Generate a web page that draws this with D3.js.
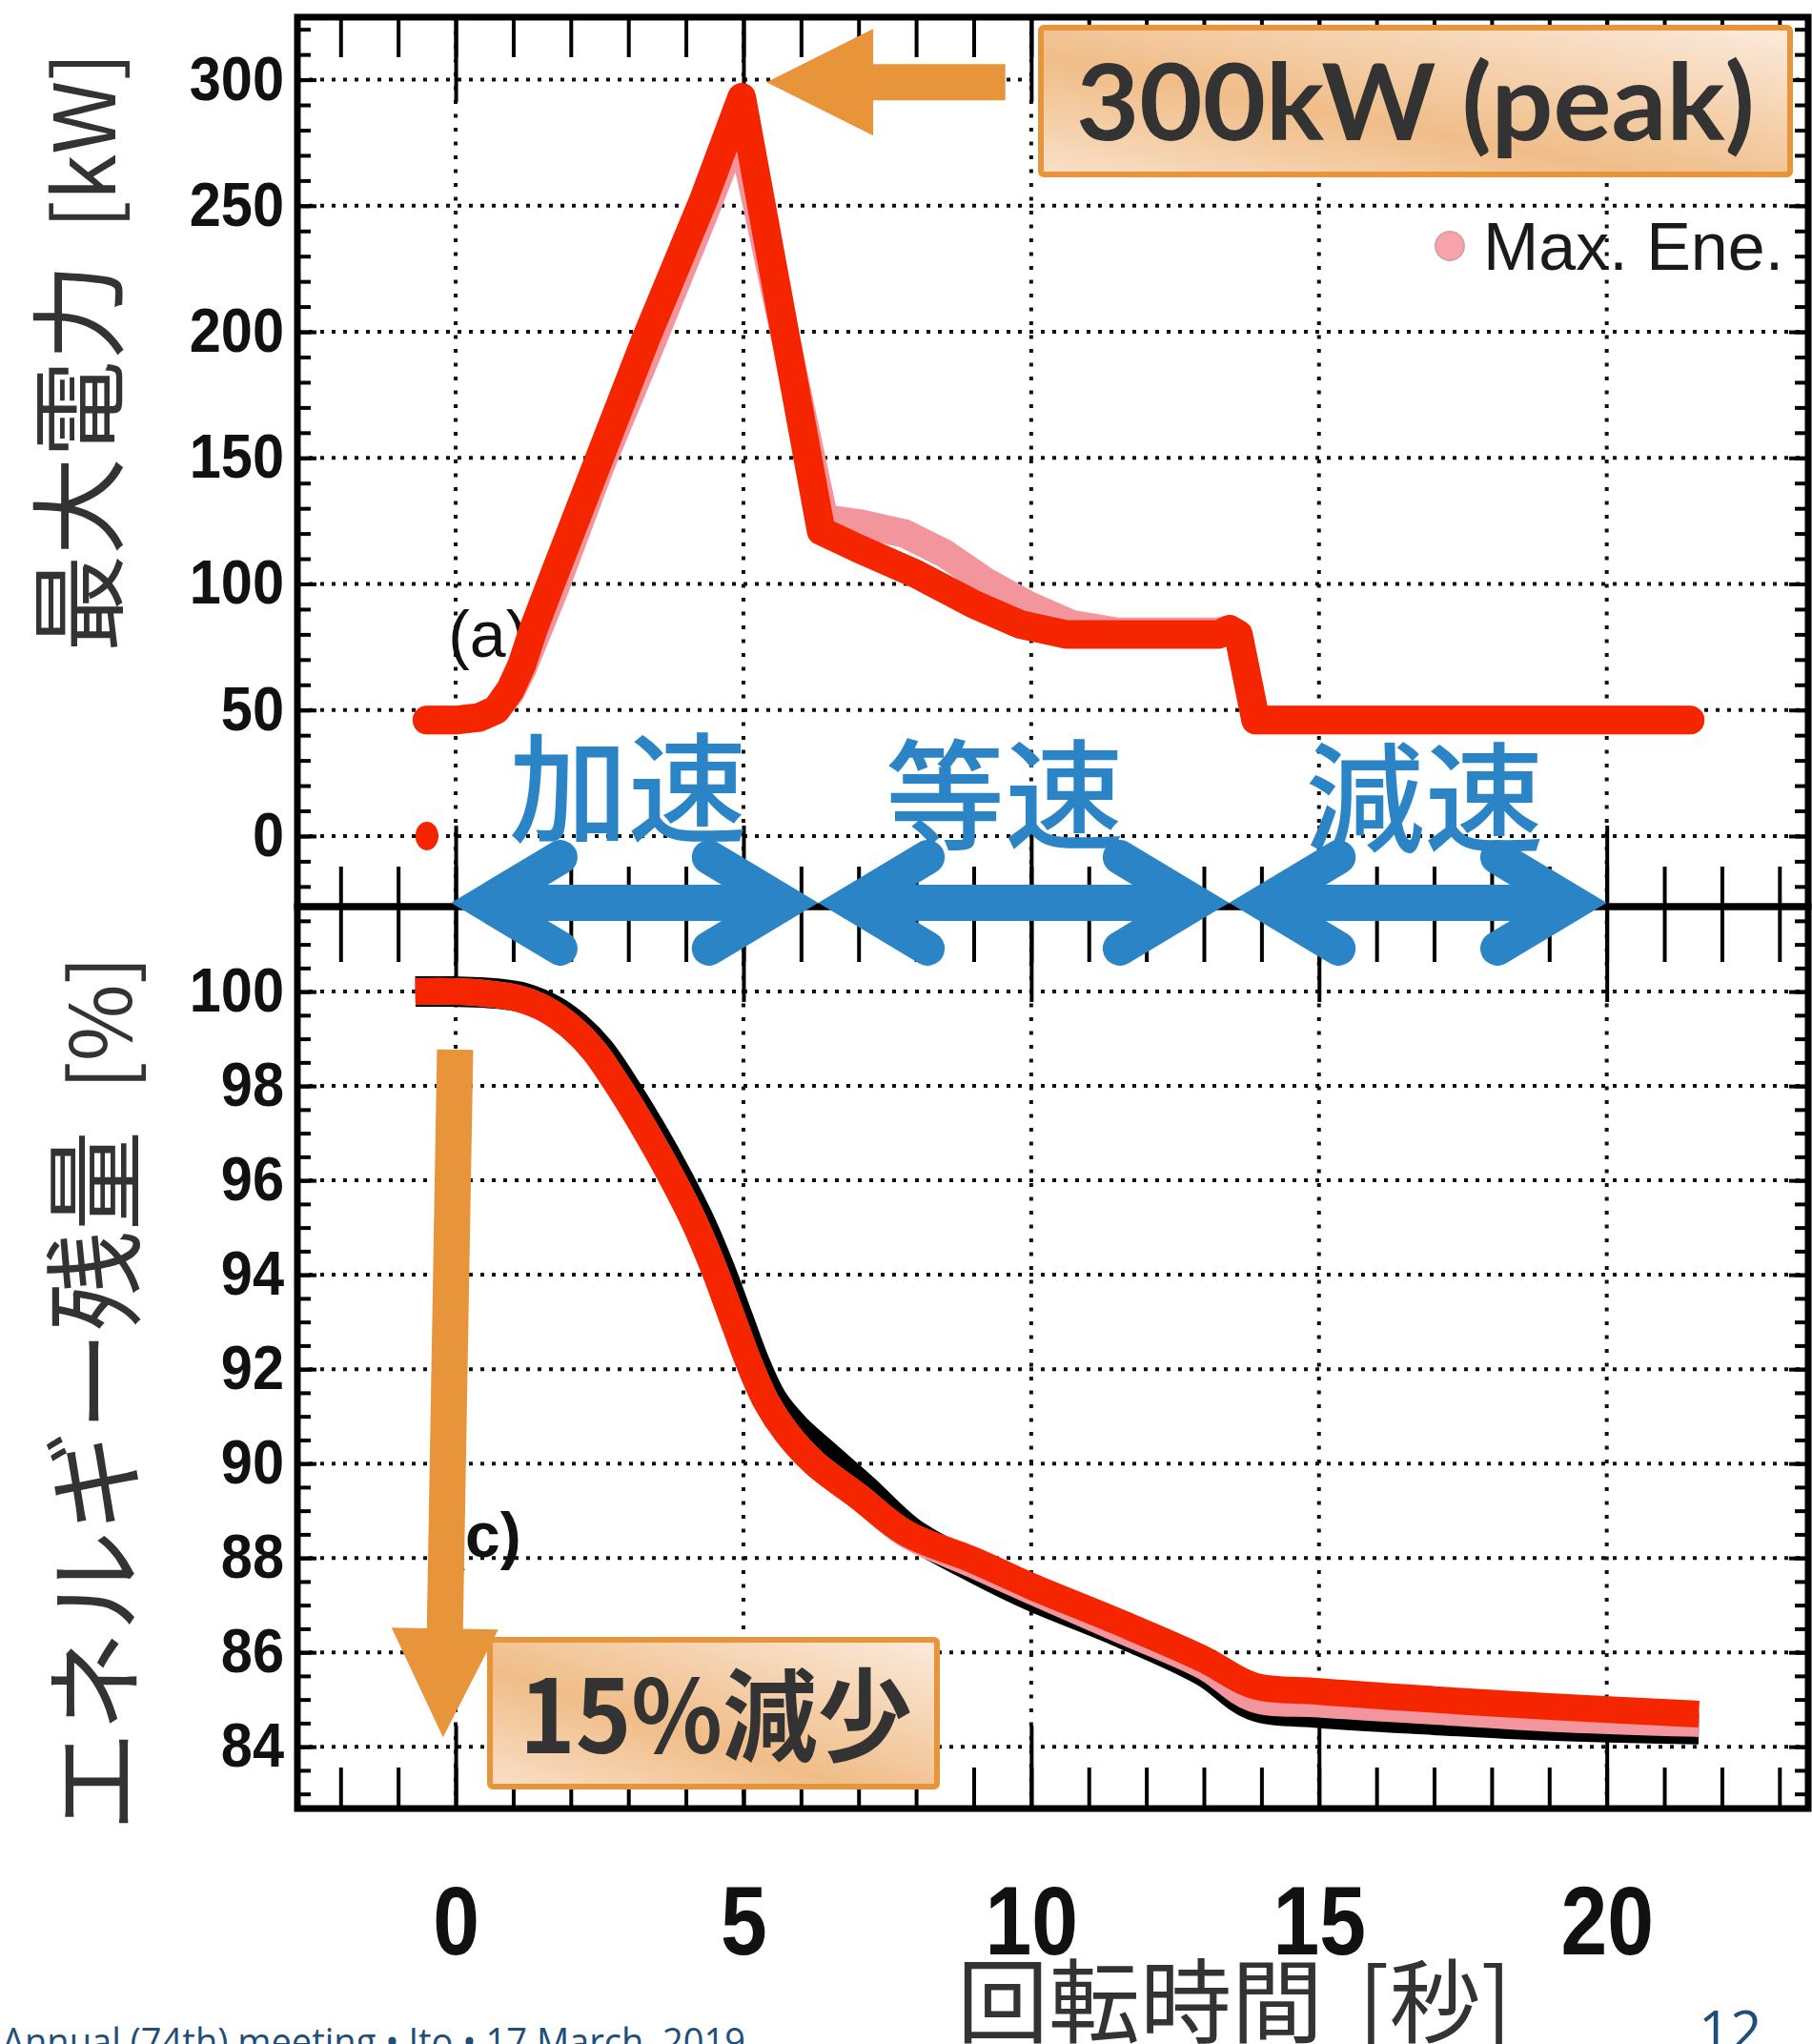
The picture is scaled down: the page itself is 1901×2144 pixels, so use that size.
<!DOCTYPE html>
<html>
<head>
<meta charset="utf-8">
<script src="https://cdn.jsdelivr.net/npm/d3@7"></script>
<style>
  body { margin: 0; background: #fff; }
  svg { display: block; }
</style>
</head>
<body>
<script>
// ---- data ----
// upper panel: max power [kW] vs time [s]
const powerTimeRed = [-0.5, 0, 0.4, 0.7, 0.95, 1.15, 1.35, 1.65, 2.5, 3.3, 4.3, 4.97, 6.35, 7.0, 8.0, 9.0, 9.8, 10.6, 11.5, 12.5, 13.25, 13.45, 13.6, 13.9, 21.45];
const powerRed     = [46, 46, 47, 50, 58, 68, 82, 100, 150, 197, 252, 293, 121, 114, 104, 92, 84, 80, 80, 80, 80, 82, 80, 46, 46];
const powerTimeMax = [-0.5, 0, 0.4, 0.7, 0.95, 1.15, 1.4, 1.7, 2.5, 3.3, 4.3, 4.93, 6.4, 7.0, 7.8, 8.5, 9.2, 10.0, 10.7, 11.5, 13.25, 13.45, 13.6, 13.9, 21.45];
const powerMax     = [46, 46, 47, 50, 57, 66, 80, 97, 146, 190, 246, 283, 126, 124, 120, 112, 101, 91, 84, 81, 81, 82, 80, 46, 46];
const powerZeroPoint = [-0.5, 0];

// lower panel: remaining energy [%] vs time [s]
const energyTime  = [-0.7, 0, 0.6, 1.1, 1.6, 2.0, 2.4, 2.77, 3.3, 3.78, 4.15, 4.48, 4.8, 5.09, 5.4, 5.75, 6.24, 7.0, 7.82, 9.0, 10.0, 11.5, 13.0, 13.85, 15, 17, 19, 21.6];
const energyRed   = [100, 100, 99.95, 99.85, 99.6, 99.25, 98.75, 98.1, 97.05, 96.0, 95.1, 94.15, 93.1, 92.15, 91.3, 90.65, 90.0, 89.3, 88.53, 87.95, 87.4, 86.65, 85.85, 85.3, 85.17, 85.0, 84.85, 84.69];
const energyMax   = [100, 100, 99.95, 99.85, 99.6, 99.25, 98.75, 98.1, 97.05, 96.0, 95.1, 94.15, 93.1, 92.15, 91.3, 90.65, 90.0, 89.3, 88.5, 87.85, 87.3, 86.5, 85.7, 85.02, 84.9, 84.75, 84.6, 84.49];
const energyTimeBlack = [-0.7, 0, 0.7, 1.2, 1.7, 2.1, 2.5, 2.87, 3.4, 3.88, 4.25, 4.58, 4.9, 5.19, 5.5, 5.9, 6.4, 7.1, 7.9, 9.0, 10.0, 11.5, 13.0, 13.85, 15, 17, 19, 21.6];
const energyBlack = [100, 100, 99.96, 99.86, 99.6, 99.25, 98.75, 98.1, 97.05, 96.0, 95.1, 94.15, 93.1, 92.15, 91.35, 90.75, 90.2, 89.45, 88.55, 87.8, 87.2, 86.45, 85.6, 84.88, 84.72, 84.57, 84.45, 84.37];

// ticks
const timeTicks = [0, 5, 10, 15, 20];
const powerTicks = [0, 50, 100, 150, 200, 250, 300];
const energyTicks = [84, 86, 88, 90, 92, 94, 96, 98, 100];

// phases of rotation (blue arrows)
const phaseNames = ["加速", "等速", "減速"];
const phaseBounds = [-0.08, 6.3, 13.44, 20];

// ---- layout ----
const W = 1901, H = 2144;
const frame = {left: 312, right: 1897, top: 18, mid: 951, bottom: 1897};
const CJK = "'Noto Sans CJK JP', 'Noto Sans CJK SC', sans-serif";
const LAT = "'Liberation Sans', Arial, sans-serif";
const red = "#F52500", pink = "#F3959D", blue = "#2A84C6", orange = "#E8943A";

const svg = d3.select("body").append("svg")
    .attr("width", W)
    .attr("height", H);

const x = d3.scaleLinear().domain([-2.75, 23.5]).range([frame.left, frame.right]);
const yUp = d3.scaleLinear().domain([-28, 324.8]).range([frame.mid, frame.top]);
const yLow = d3.scaleLinear().domain([82.69, 101.8]).range([frame.bottom, frame.mid]);

const defs = svg.append("defs");
const grad = defs.append("linearGradient").attr("id", "peach")
    .attr("x1", 0).attr("y1", 1).attr("x2", 1).attr("y2", 0);
grad.append("stop").attr("offset", 0).attr("stop-color", "#F9E0C8");
grad.append("stop").attr("offset", 0.4).attr("stop-color", "#F0BD88");
grad.append("stop").attr("offset", 1).attr("stop-color", "#FBEBDD");

// ---- grid (dotted) ----
const grid = svg.append("g");
grid.selectAll(".hup").data(powerTicks).enter().append("line")
    .attr("x1", frame.left).attr("x2", frame.right)
    .attr("y1", d => yUp(d)).attr("y2", d => yUp(d))
    .attr("stroke", "#111").attr("stroke-width", 4).attr("stroke-dasharray", "4,8");
grid.selectAll(".hlow").data(energyTicks).enter().append("line")
    .attr("x1", frame.left).attr("x2", frame.right)
    .attr("y1", d => yLow(d)).attr("y2", d => yLow(d))
    .attr("stroke", "#111").attr("stroke-width", 4).attr("stroke-dasharray", "4,8");
grid.selectAll(".vup").data(timeTicks).enter().append("line")
    .attr("x1", d => x(d)).attr("x2", d => x(d))
    .attr("y1", frame.top).attr("y2", frame.mid)
    .attr("stroke", "#111").attr("stroke-width", 4).attr("stroke-dasharray", "4,10.5");
grid.selectAll(".vlow").data(timeTicks).enter().append("line")
    .attr("x1", d => x(d)).attr("x2", d => x(d))
    .attr("y1", frame.mid).attr("y2", frame.bottom)
    .attr("stroke", "#111").attr("stroke-width", 4).attr("stroke-dasharray", "4,10.5");

// ---- tick marks (inside the frames) ----
const minorTime = d3.range(-2, 24);
const minorPower = d3.range(-20, 321, 10);
const minorEnergy = d3.range(83, 101.6, 0.5);

function tickRow(axisFn, scale, values, size, tx, ty) {
    const g = svg.append("g").attr("transform", "translate(" + tx + "," + ty + ")")
        .call(axisFn(scale).tickValues(values).tickSize(size).tickFormat(""));
    g.select(".domain").remove();
    g.selectAll("line").attr("stroke", "#000").attr("stroke-width", 4);
    return g;
}

tickRow(d3.axisBottom, x, minorTime, 42, 0, frame.top);
tickRow(d3.axisBottom, x, timeTicks, 89, 0, frame.top);
tickRow(d3.axisTop, x, minorTime, 42, 0, frame.mid);
tickRow(d3.axisTop, x, timeTicks, 85, 0, frame.mid);
tickRow(d3.axisBottom, x, minorTime, 58, 0, frame.mid);
tickRow(d3.axisBottom, x, timeTicks, 100, 0, frame.mid);
tickRow(d3.axisTop, x, minorTime, 43, 0, frame.bottom);
tickRow(d3.axisTop, x, timeTicks, 87, 0, frame.bottom);

tickRow(d3.axisRight, yUp, minorPower, 14, frame.left, 0);
tickRow(d3.axisRight, yUp, powerTicks, 20, frame.left, 0);
tickRow(d3.axisLeft, yUp, minorPower, 14, frame.right, 0);
tickRow(d3.axisLeft, yUp, powerTicks, 20, frame.right, 0);
tickRow(d3.axisRight, yLow, minorEnergy, 14, frame.left, 0);
tickRow(d3.axisRight, yLow, energyTicks, 20, frame.left, 0);
tickRow(d3.axisLeft, yLow, minorEnergy, 14, frame.right, 0);
tickRow(d3.axisLeft, yLow, energyTicks, 20, frame.right, 0);

// ---- frames ----
svg.append("rect").attr("x", frame.left).attr("y", frame.top)
    .attr("width", frame.right - frame.left).attr("height", frame.mid - frame.top)
    .attr("fill", "none").attr("stroke", "#000").attr("stroke-width", 7);
svg.append("rect").attr("x", frame.left).attr("y", frame.mid)
    .attr("width", frame.right - frame.left).attr("height", frame.bottom - frame.mid)
    .attr("fill", "none").attr("stroke", "#000").attr("stroke-width", 7);

// ---- tick labels ----
const upLabels = svg.append("g").attr("transform", "translate(" + frame.left + ",0)")
    .call(d3.axisLeft(yUp).tickValues(powerTicks).tickSize(0).tickPadding(15));
const lowLabels = svg.append("g").attr("transform", "translate(" + frame.left + ",0)")
    .call(d3.axisLeft(yLow).tickValues(energyTicks).tickSize(0).tickPadding(15));
[upLabels, lowLabels].forEach(function(g) {
    g.select(".domain").remove();
    g.selectAll("text")
        .attr("font-family", LAT).attr("font-weight", "bold")
        .attr("font-size", 64).attr("fill", "#111")
        .attr("transform", "scale(0.93,1)");
});
const xLabels = svg.append("g").attr("transform", "translate(0," + frame.bottom + ")")
    .call(d3.axisBottom(x).tickValues(timeTicks).tickSize(0).tickPadding(81));
xLabels.select(".domain").remove();
xLabels.selectAll("text")
    .attr("font-family", LAT).attr("font-weight", "bold")
    .attr("font-size", 102).attr("fill", "#111")
    .attr("transform", "scale(0.86,1)");

// ---- panel labels ----
svg.append("text").attr("x", x(-0.13)).attr("y", 689)
    .attr("font-family", LAT).attr("font-size", 68).attr("fill", "#111").text("(a)");
svg.append("text").attr("x", x(-0.2)).attr("y", 1633)
    .attr("font-family", LAT).attr("font-weight", "bold").attr("font-size", 66).attr("fill", "#111").text("(c)");

// ---- data lines ----
const lineUp = d3.line().x(d => x(d[0])).y(d => yUp(d[1]));
const lineLow = d3.line().x(d => x(d[0])).y(d => yLow(d[1])).curve(d3.curveCatmullRom.alpha(0.5));

svg.append("path").datum(d3.zip(powerTimeMax, powerMax)).attr("d", lineUp)
    .attr("fill", "none").attr("stroke", pink).attr("stroke-width", 30)
    .attr("stroke-linejoin", "round").attr("stroke-linecap", "round");
svg.append("path").datum(d3.zip(powerTimeRed, powerRed)).attr("d", lineUp)
    .attr("fill", "none").attr("stroke", red).attr("stroke-width", 30)
    .attr("stroke-linejoin", "round").attr("stroke-linecap", "round");

svg.append("path").datum(d3.zip(energyTimeBlack, energyBlack)).attr("d", lineLow)
    .attr("fill", "none").attr("stroke", "#000").attr("stroke-width", 32);
svg.append("path").datum(d3.zip(energyTime, energyMax)).attr("d", lineLow)
    .attr("fill", "none").attr("stroke", pink).attr("stroke-width", 28);
svg.append("path").datum(d3.zip(energyTime, energyRed)).attr("d", lineLow)
    .attr("fill", "none").attr("stroke", red).attr("stroke-width", 28);

// single point at zero
svg.append("ellipse").attr("cx", x(powerZeroPoint[0])).attr("cy", yUp(powerZeroPoint[1]))
    .attr("rx", 12).attr("ry", 15).attr("fill", red);

// ---- legend ----
svg.append("circle").attr("cx", 1521).attr("cy", 258).attr("r", 15)
    .attr("fill", "#F7A3AB").attr("stroke", "#d9a0a4").attr("stroke-width", 2);
svg.append("text").attr("x", 1556).attr("y", 283)
    .attr("font-family", LAT).attr("font-size", 70).attr("fill", "#1a1a1a").text("Max. Ene.");

// ---- blue phase arrows ----
const arrowY = 947, headAng = 31 * Math.PI / 180, headLen = 93, armW = 36;
const apexOff = (armW / 2) / Math.sin(headAng);
const hdx = headLen * Math.cos(headAng), hdy = headLen * Math.sin(headAng);
const labelNudge = [-7, -20, 7];
const labelBase = [874, 881, 884];
phaseNames.forEach(function(name, i) {
    const a0 = x(phaseBounds[i]) + apexOff;
    const a1 = x(phaseBounds[i + 1]) - apexOff;
    const g = svg.append("g");
    g.append("line").attr("x1", a0).attr("x2", a1).attr("y1", arrowY).attr("y2", arrowY)
        .attr("stroke", blue).attr("stroke-width", 38);
    g.append("path")
        .attr("d", d3.line()([[a0 + hdx, arrowY - hdy], [a0, arrowY], [a0 + hdx, arrowY + hdy]]))
        .attr("fill", "none").attr("stroke", blue).attr("stroke-width", armW)
        .attr("stroke-linecap", "round").attr("stroke-linejoin", "miter");
    g.append("path")
        .attr("d", d3.line()([[a1 - hdx, arrowY - hdy], [a1, arrowY], [a1 - hdx, arrowY + hdy]]))
        .attr("fill", "none").attr("stroke", blue).attr("stroke-width", armW)
        .attr("stroke-linecap", "round").attr("stroke-linejoin", "miter");
    const mid = (phaseBounds[i] + phaseBounds[i + 1]) / 2;
    svg.append("text").attr("x", x(mid) + labelNudge[i]).attr("y", labelBase[i])
        .attr("text-anchor", "middle").attr("font-family", CJK).attr("font-weight", 500)
        .attr("font-size", 125).attr("fill", blue).text(name);
});

// ---- orange arrow to the peak ----
const tipX = x(5.4), tipY = yUp(299), shaftEnd = x(9.55);
svg.append("path")
    .attr("d", d3.line()([
        [tipX, tipY], [tipX + 112, tipY - 56], [tipX + 112, tipY - 19],
        [shaftEnd, tipY - 19], [shaftEnd, tipY + 19], [tipX + 112, tipY + 19],
        [tipX + 112, tipY + 56]]) + "Z")
    .attr("fill", orange);

// ---- orange arrow down (energy drop) ----
(function() {
    const top = [x(-0.01), yLow(98.77)], tip = [x(-0.22), yLow(84.2)];
    const len = Math.hypot(tip[0] - top[0], tip[1] - top[1]);
    const ux = (tip[0] - top[0]) / len, uy = (tip[1] - top[1]) / len;
    const nx = -uy, ny = ux;
    const baseLen = len - 114;
    const b = [top[0] + ux * baseLen, top[1] + uy * baseLen];
    const p = (c, s) => [c[0] + nx * s, c[1] + ny * s];
    svg.append("path")
        .attr("d", d3.line()([p(top, -19), p(top, 19), p(b, 19), p(b, 56), tip, p(b, -56), p(b, -19)]) + "Z")
        .attr("fill", orange);
})();

// ---- callout boxes ----
svg.append("rect").attr("x", 1092).attr("y", 29).attr("width", 786).attr("height", 154)
    .attr("rx", 3).attr("fill", "url(#peach)").attr("stroke", orange).attr("stroke-width", 6);
svg.append("text").attr("x", 1129).attr("y", 147)
    .attr("font-family", "Lato, 'DejaVu Sans', sans-serif").attr("font-weight", "bold")
    .attr("font-size", 112).attr("fill", "#333")
    .attr("textLength", 712).attr("lengthAdjust", "spacingAndGlyphs")
    .text("300kW (peak)");

svg.append("rect").attr("x", 514).attr("y", 1720).attr("width", 469).attr("height", 154)
    .attr("rx", 3).attr("fill", "url(#peach)").attr("stroke", orange).attr("stroke-width", 6);
svg.append("text").attr("x", 545).attr("y", 1839)
    .attr("font-family", CJK).attr("font-weight", "bold")
    .attr("font-size", 106).attr("fill", "#333")
    .attr("textLength", 412).attr("lengthAdjust", "spacingAndGlyphs")
    .text("15%減少");

// ---- axis titles ----
const t1 = svg.append("text").attr("transform", "translate(121,684) rotate(-90)")
    .attr("font-family", CJK).attr("fill", "#333");
t1.append("tspan").attr("font-size", 102).text("最大電力");
t1.append("tspan").attr("font-size", 88).attr("dx", 36).text("[kW]");

const t2 = svg.append("text").attr("transform", "translate(138,1921) rotate(-90)")
    .attr("font-family", CJK).attr("fill", "#333");
t2.append("tspan").attr("font-size", 105).text("エネルギー残量");
t2.append("tspan").attr("font-size", 88).attr("dx", 43).text("[%]");

const t3 = svg.append("text").attr("x", 1004).attr("y", 2135)
    .attr("font-family", CJK).attr("fill", "#333");
t3.append("tspan").attr("font-size", 96).text("回転時間");
t3.append("tspan").attr("font-size", 96).attr("dx", 37).text("[秒]");

// ---- footer ----
svg.append("text").attr("x", 2).attr("y", 2156)
    .attr("font-family", "'Open Sans', sans-serif").attr("font-size", 40).attr("fill", "#1F4E79")
    .attr("textLength", 780).attr("lengthAdjust", "spacingAndGlyphs")
    .text("Annual (74th) meeting • Ito • 17 March, 2019");
svg.append("text").attr("x", 1782).attr("y", 2151)
    .attr("font-family", "'Open Sans', sans-serif").attr("font-size", 58).attr("fill", "#1F4E79")
    .text("12");
</script>
</body>
</html>
